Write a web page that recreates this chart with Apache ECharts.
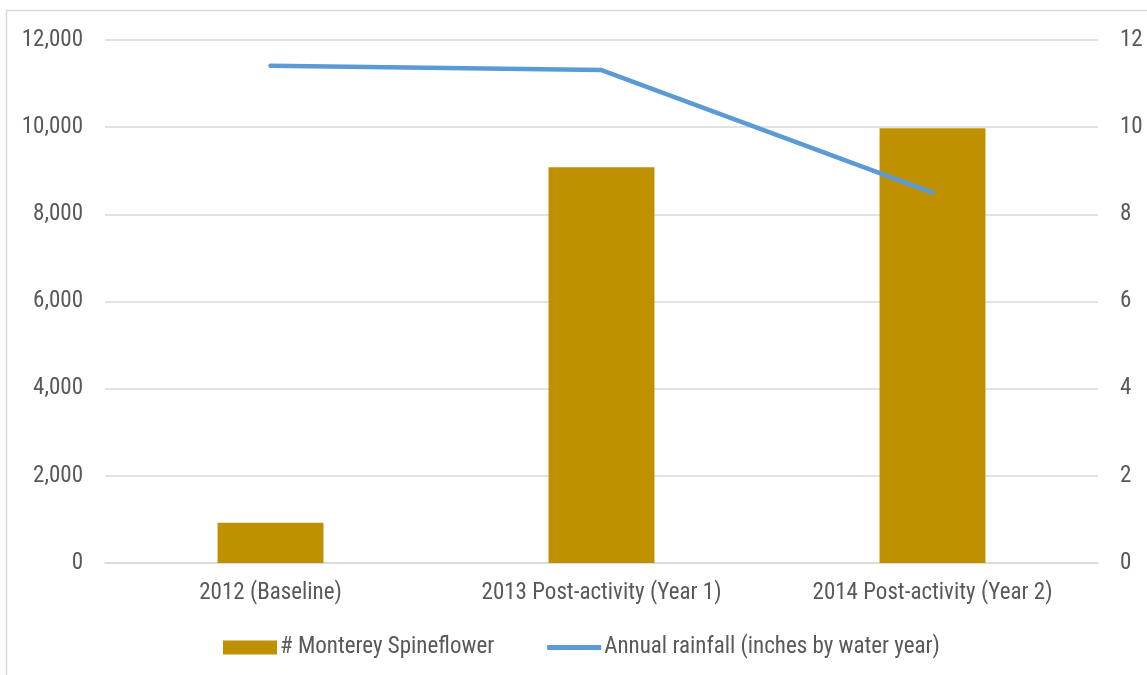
<!DOCTYPE html>
<html>
<head>
<meta charset="utf-8">
<script src="https://cdn.jsdelivr.net/npm/echarts@6/dist/echarts.min.js"></script>
<style>
  html, body { margin: 0; padding: 0; background: #ffffff; }
  #chart { width: 1147px; height: 675px; }
</style>
</head>
<body>
<div id="chart"></div>
<script>
// Survey periods along the x axis
const categories = ['2012 (Baseline)', '2013 Post-activity (Year 1)', '2014 Post-activity (Year 2)'];
// Plant counts (left axis)
const spineflowerCounts = [925, 9080, 9975];
// Rainfall in inches (right axis)
const annualRainfall = [11.41, 11.31, 8.5];

const seriesNames = ['# Monterey Spineflower', 'Annual rainfall (inches by water year)'];

const FONT = "'Liberation Sans Narrow', 'Arial Narrow', 'Roboto Condensed', sans-serif";
const TEXT = '#595959';
const GRID = '#d9d9d9';
const FS = 23;

const chart = echarts.init(document.getElementById('chart'), null, { renderer: 'canvas' });

chart.setOption({
  animation: false,
  backgroundColor: '#ffffff',
  textStyle: { fontFamily: FONT },
  graphic: [{
    type: 'rect',
    silent: true,
    shape: { x: 6.5, y: 10.5, width: 1180, height: 700 },
    style: { fill: 'none', stroke: GRID, lineWidth: 1.5 }
  }],
  grid: { left: 105, right: 49, top: 40, bottom: 112, containLabel: false },
  legend: {
    top: 631,
    left: 218,
    itemGap: 53,
    itemWidth: 54,
    itemHeight: 14,
    itemStyle: { borderWidth: 0 },
    textStyle: { fontFamily: FONT, fontSize: FS, color: TEXT, padding: [0, 0, 0, -2] },
    data: [
      { name: seriesNames[0], icon: 'rect' },
      // thin bar centred in the 54x14 icon box; the move-to points set the box extent
      { name: seriesNames[1], icon: 'path://M0,0 M54,14 M0,4.5 L54,4.5 L54,9.5 L0,9.5 Z' }
    ]
  },
  xAxis: {
    type: 'category',
    data: categories,
    axisLine: { show: true, lineStyle: { color: GRID, width: 1.5 } },
    axisTick: { show: false },
    axisLabel: { color: TEXT, fontSize: FS, fontFamily: FONT, margin: 19 }
  },
  yAxis: [
    {
      type: 'value',
      min: 0, max: 12000, interval: 2000,
      axisLine: { show: false },
      axisTick: { show: false },
      splitLine: { lineStyle: { color: GRID, width: 1.5 } },
      axisLabel: {
        color: TEXT, fontSize: FS, fontFamily: FONT, margin: 22,
        formatter: v => v.toLocaleString('en-US')
      }
    },
    {
      type: 'value',
      min: 0, max: 12, interval: 2,
      position: 'right',
      axisLine: { show: false },
      axisTick: { show: false },
      splitLine: { show: false },
      axisLabel: { color: TEXT, fontSize: FS, fontFamily: FONT, margin: 22 }
    }
  ],
  series: [
    {
      name: seriesNames[0],
      type: 'bar',
      yAxisIndex: 0,
      data: spineflowerCounts,
      barWidth: '32%',
      itemStyle: { color: '#BF9000' }
    },
    {
      name: seriesNames[1],
      type: 'line',
      yAxisIndex: 1,
      data: annualRainfall,
      symbol: 'none',
      lineStyle: { color: '#5B9BD5', width: 4.5, cap: 'round', join: 'round' },
      itemStyle: { color: '#5B9BD5' }
    }
  ]
});
</script>
</body>
</html>
